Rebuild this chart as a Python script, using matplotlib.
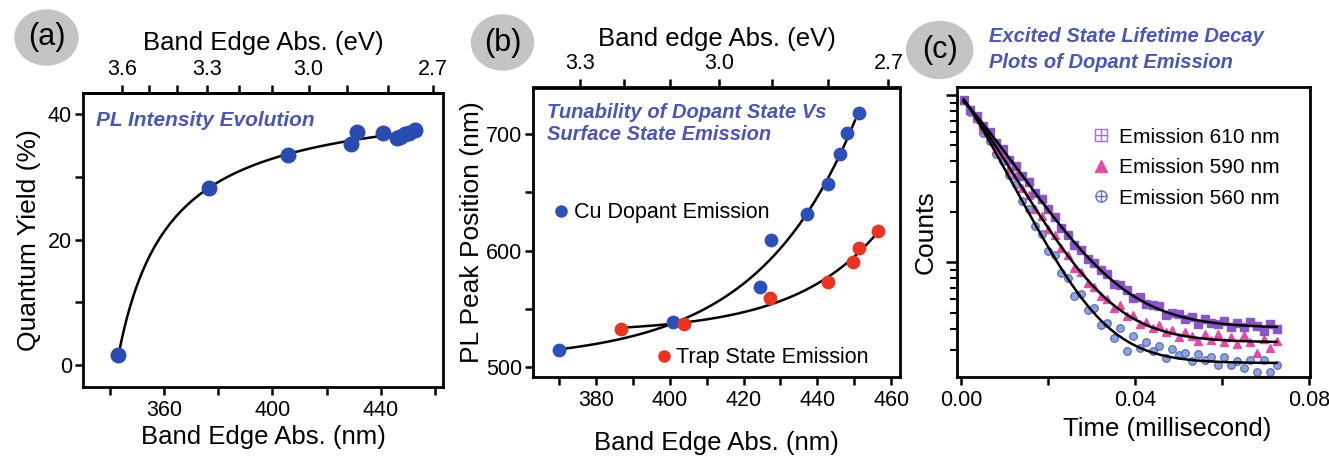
import numpy as np
import matplotlib
matplotlib.use('Agg')
import matplotlib.pyplot as plt
from matplotlib.patches import Ellipse
from matplotlib.lines import Line2D
from matplotlib.ticker import LogLocator, NullFormatter

plt.rcParams['font.family'] = ['Liberation Sans', 'DejaVu Sans']
plt.rcParams['axes.linewidth'] = 2.0

# ---- (a) quantum yield vs band edge absorption
qy_nm = [343.1, 376.6, 405.8, 428.9, 431.1, 440.7, 445.9, 447.0, 448.9, 450.5, 452.6]
qy_pct = [1.6, 28.2, 33.5, 35.3, 37.2, 37.0, 36.2, 36.4, 36.8, 37.0, 37.4]

# ---- (b) PL peak position vs band edge absorption
cu_nm = [370.0, 400.8, 424.4, 427.5, 437.3, 442.8, 446.2, 448.1, 451.2]
cu_pl = [515, 539, 569, 609, 631, 657, 683, 701, 718]
trap_nm = [386.7, 403.9, 427.2, 442.8, 449.6, 451.4, 456.4]
trap_pl = [533, 537, 559, 573, 590, 602, 617]

# ---- (c) decay traces (counts), time in millisecond
t_ms = np.round(np.arange(0.0005, 0.0726, 0.0015), 4)
em610 = [9330, 8170, 7460, 6500, 5960, 5190, 4720, 4090, 3770, 3270,
         3010, 2590, 2380, 2070, 1870, 1600, 1460, 1270, 1190, 1040,
         993, 893, 845, 741, 733, 678, 611, 618, 565, 556,
         550, 486, 495, 493, 457, 468, 428, 455, 436, 425,
         447, 409, 431, 408, 440, 413, 387, 427, 400]
em590 = [9350, 8110, 7280, 6220, 5600, 4780, 4360, 3660, 3320, 2770,
         2510, 2080, 1880, 1580, 1445, 1210, 1110, 925, 877, 752,
         716, 628, 605, 536, 552, 479, 482, 428, 442, 406,
         424, 381, 394, 359, 384, 361, 337, 373, 344, 371,
         333, 355, 326, 368, 334, 286, 347, 308, 337]
em560 = [9380, 7940, 7130, 5930, 5330, 4420, 4020, 3330, 2920, 2320,
         2070, 1640, 1480, 1170, 1100, 857, 809, 628, 643, 520,
         531, 420, 434, 353, 402, 295, 360, 306, 335, 294,
         315, 267, 302, 279, 288, 256, 281, 261, 270, 242,
         270, 243, 256, 232, 259, 220, 260, 220, 244]


def nm2ev(x):
    x = np.asarray(x, dtype=float)
    return 1240.0 / np.where(x == 0, 1e-9, x)


def fit_hyper(x, y):
    # y = a - b/(x - c)
    x = np.asarray(x, float); y = np.asarray(y, float)
    best = None
    for c in np.linspace(250, x.min() - 0.5, 600):
        X = np.column_stack([np.ones_like(x), -1.0 / (x - c)])
        coef = np.linalg.lstsq(X, y, rcond=None)[0]
        err = np.sum((X @ coef - y) ** 2)
        if best is None or err < best[0]:
            best = (err, c, coef)
    _, c, (a, b) = best
    return lambda xx: a - b / (xx - c)


def fit_exp(x, y):
    # y = a + b*exp(x/s)
    x = np.asarray(x, float); y = np.asarray(y, float)
    best = None
    for s in np.linspace(5, 300, 600):
        X = np.column_stack([np.ones_like(x), np.exp((x - 400) / s)])
        coef = np.linalg.lstsq(X, y, rcond=None)[0]
        err = np.sum((X @ coef - y) ** 2)
        if best is None or err < best[0]:
            best = (err, s, coef)
    _, s, (a, b) = best
    return lambda xx: a + b * np.exp((xx - 400) / s)


def fit_decay(t, y):
    # y = C + A*exp(-(t/tau)^beta), relative least squares
    t = np.asarray(t, float); y = np.asarray(y, float)
    w = 1.0 / y
    best = None
    for tau in np.linspace(0.004, 0.03, 131):
        for beta in np.linspace(0.8, 2.0, 61):
            e = np.exp(-(t / tau) ** beta)
            X = np.column_stack([e * w, w])
            coef = np.linalg.lstsq(X, np.ones_like(y), rcond=None)[0]
            err = np.sum((X @ coef - 1) ** 2)
            if best is None or err < best[0]:
                best = (err, tau, beta, coef)
    _, tau, beta, (A, C) = best
    return lambda tt: C + A * np.exp(-(tt / tau) ** beta)


W, H = 1329, 462
fig = plt.figure(figsize=(W / 100, H / 100), dpi=100)


def box(l, r, t, b):
    return [l / W, (H - b) / H, (r - l) / W, (b - t) / H]


blue_txt = '#4b56b4'
tick_kw = dict(direction='out', length=6, width=1.8, labelsize=15.5)

# ================= (a)
ax1 = fig.add_axes(box(83, 443, 93, 387))
ax1.scatter(qy_nm, qy_pct, s=110, color='#2a4bb0', zorder=3)
f1 = fit_hyper(qy_nm, qy_pct)
xx = np.linspace(min(qy_nm), max(qy_nm), 300)
ax1.plot(xx, f1(xx), color='black', lw=1.8, zorder=2)
ax1.set_xlim(330, 463)
ax1.set_ylim(-3.5, 43.35)
ax1.set_xticks([360, 400, 440])
ax1.set_xticks([340, 380, 420, 460], minor=True)
ax1.set_yticks([0, 20, 40])
ax1.set_yticks([10, 30], minor=True)
ax1.tick_params(which='both', top=False, right=False, **tick_kw)
ax1.tick_params(axis='y', pad=2)
ax1.set_xlabel('Band Edge Abs. (nm)', fontsize=18.5, labelpad=3)
ax1.set_ylabel('Quantum Yield (%)', fontsize=19, labelpad=5)
sec1 = ax1.secondary_xaxis('top', functions=(nm2ev, nm2ev))
sec1.set_xticks([3.6, 3.3, 3.0, 2.7])
sec1.set_xticks([3.5, 3.4, 3.2, 3.1, 2.9, 2.8], minor=True)
sec1.set_xticklabels(['3.6', '3.3', '3.0', '2.7'])
sec1.tick_params(which='both', **tick_kw)
sec1.set_xlabel('Band Edge Abs. (eV)', fontsize=18.5, labelpad=6)
ax1.text(0.036, 0.908, 'PL Intensity Evolution', transform=ax1.transAxes,
         fontsize=15, fontweight='bold', fontstyle='italic', color=blue_txt,
         va='center', ha='left')

# ================= (b)
ax2 = fig.add_axes(box(533, 900, 87.5, 377))
ax2.scatter(cu_nm, cu_pl, s=80, color='#2c50ba', zorder=3)
ax2.scatter(trap_nm, trap_pl, s=80, color='#ea3320', zorder=3)
fcu = fit_exp(cu_nm, cu_pl)
ftr = fit_exp(trap_nm, trap_pl)
xx = np.linspace(min(cu_nm), max(cu_nm) - 1.0, 300)
ax2.plot(xx, fcu(xx), color='black', lw=1.8, zorder=2)
xx = np.linspace(min(trap_nm), max(trap_nm) - 0.8, 300)
ax2.plot(xx, ftr(xx), color='black', lw=1.8, zorder=2)
ax2.set_xlim(362.9, 462.4)
ax2.set_ylim(491.4, 740)
ax2.set_xticks([380, 400, 420, 440, 460])
ax2.set_xticks([370, 390, 410, 430, 450], minor=True)
ax2.set_yticks([500, 600, 700])
ax2.set_yticks([550, 650], minor=True)
ax2.tick_params(which='both', top=False, right=False, **tick_kw)
ax2.tick_params(axis='y', pad=2)
ax2.set_xlabel('Band Edge Abs. (nm)', fontsize=18.5, labelpad=14)
ax2.set_ylabel('PL Peak Position (nm)', fontsize=19, labelpad=1)
sec2 = ax2.secondary_xaxis('top', functions=(nm2ev, nm2ev))
sec2.set_xticks([3.3, 3.0, 2.7])
sec2.set_xticks([3.2, 3.1, 2.9, 2.8], minor=True)
sec2.set_xticklabels(['3.3', '3.0', '2.7'])
sec2.tick_params(which='both', **tick_kw)
sec2.set_xlabel('Band edge Abs. (eV)', fontsize=18.5, labelpad=5)
ax2.text(0.037, 0.874, 'Tunability of Dopant State Vs\nSurface State Emission',
         transform=ax2.transAxes, fontsize=14.5, fontweight='bold',
         fontstyle='italic', color=blue_txt, va='center', ha='left',
         linespacing=1.2)
h_cu = Line2D([], [], ls='none', marker='o', ms=8, color='#2c50ba')
h_tr = Line2D([], [], ls='none', marker='o', ms=8, color='#ea3320')
leg_kw = dict(frameon=False, fontsize=15.5, handlelength=0.6, handletextpad=0.3,
              borderpad=0, borderaxespad=0, loc='center left')
lg1 = ax2.legend([h_cu], ['Cu Dopant Emission'], bbox_to_anchor=(0.058, 0.567), **leg_kw)
ax2.add_artist(lg1)
ax2.legend([h_tr], ['Trap State Emission'], bbox_to_anchor=(0.338, 0.067), **leg_kw)

# ================= (c)
ax3 = fig.add_axes(box(956.7, 1310, 87.3, 376.7))
c610, c590, c560 = '#8a56c8', '#e04ca8', '#6a84cc'
ax3.plot(t_ms, em610, ls='none', marker='s', ms=5.5, color=c610, zorder=3)
ax3.plot(t_ms, em590, ls='none', marker='^', ms=6, color=c590, zorder=2)
ax3.plot(t_ms, em560, ls='none', marker='o', ms=5.5, mfc='#8fa2dc', mec='#4d66ba',
         mew=0.8, zorder=1)
tt = np.linspace(t_ms[0], t_ms[-1], 400)
for series in (em610, em590, em560):
    fd = fit_decay(t_ms, series)
    ax3.plot(tt, fd(tt), color='black', lw=1.8, zorder=4)
ax3.set_yscale('log')
ax3.set_ylim(207, 11100)
ax3.set_xlim(-0.0011, 0.0802)
ax3.set_xticks([0, 0.02, 0.04, 0.06, 0.08])
ax3.set_xticklabels(['0.00', '', '0.04', '', '0.08'])
ax3.yaxis.set_major_locator(LogLocator(base=10, numticks=10))
ax3.yaxis.set_minor_locator(LogLocator(base=10, subs=np.arange(2, 10), numticks=20))
ax3.yaxis.set_major_formatter(NullFormatter())
ax3.yaxis.set_minor_formatter(NullFormatter())
ax3.tick_params(which='both', top=False, right=False, **tick_kw)
ax3.tick_params(axis='y', which='major', length=8)
ax3.tick_params(axis='y', which='minor', length=5, width=1.5)
ax3.set_xlabel('Time (millisecond)', fontsize=18.5)
ax3.xaxis.set_label_coords(0.596, -0.14, transform=ax3.transAxes)
ax3.xaxis.label.set_va('top')
ax3.set_ylabel('Counts', fontsize=19, labelpad=2)
h610 = (Line2D([], [], ls='none', marker='s', ms=9, mfc='none', mec='#a070d4', mew=1.0),
        Line2D([], [], ls='none', marker='+', ms=9, color='#a070d4', mew=1.0))
h590 = Line2D([], [], ls='none', marker='^', ms=9, color=c590)
h560 = (Line2D([], [], ls='none', marker='o', ms=8, mfc='none', mec='#5a72c4', mew=1.0),
        Line2D([], [], ls='none', marker='+', ms=8, color='#5a72c4', mew=1.0))
ax3.legend([h610, h590, h560], ['Emission 610 nm', 'Emission 590 nm', 'Emission 560 nm'],
           loc='upper left', bbox_to_anchor=(0.37, 0.875), frameon=True,
           facecolor='white', edgecolor='none', framealpha=0.85, fontsize=15,
           handlelength=0.9, handletextpad=0.4, labelspacing=0.55,
           borderpad=0.2, borderaxespad=0)

# ================= panel tags
for cx, cy, w, h, lab in [(46.5, 37.5, 63, 55, '(a)'), (502.5, 42.5, 62, 55, '(b)'),
                          (939.7, 50, 66, 57, '(c)')]:
    fig.patches.append(Ellipse((cx / W, 1 - cy / H), w / W, h / H,
                               transform=fig.transFigure, color='#c4c4c4', zorder=0))
    fig.text(cx / W, 1 - cy / H, lab, fontsize=22, ha='center', va='center')

fig.text(989 / W, 1 - 37 / H, 'Excited State Lifetime Decay', fontsize=14.5,
         fontweight='bold', fontstyle='italic', color=blue_txt, va='center')
fig.text(989 / W, 1 - 62 / H, 'Plots of Dopant Emission', fontsize=14.5,
         fontweight='bold', fontstyle='italic', color=blue_txt, va='center')

fig.savefig('out.png', dpi=100)
